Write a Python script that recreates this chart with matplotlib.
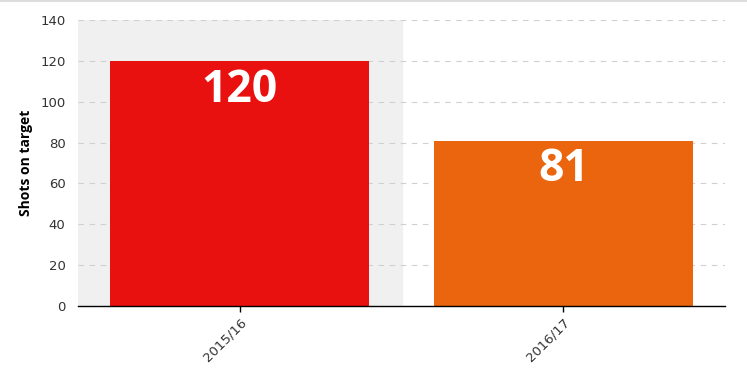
import matplotlib.pyplot as plt
import numpy as np

seasons = ["2015/16", "2016/17"]
shots = [120, 81]
colors = ["#E8110F", "#EA650D"]

plt.rcParams['font.family'] = ['DejaVu Sans']

fig = plt.figure(figsize=(7.47, 3.71), dpi=100)
ax = fig.add_axes([78/747, 65/371, 647/747, 286/371])

x = np.arange(len(seasons))
# shaded background behind the first category
ax.axvspan(-0.5, 0.5, color="#F0F0F0", zorder=0)
bars = ax.bar(x, shots, width=0.8, color=colors, zorder=2)

for xi, v in zip(x, shots):
    ax.annotate(str(v), (xi, v), xytext=(0, -5), textcoords="offset points",
                ha="center", va="top", color="white", fontsize=32,
                fontweight="bold", family=["Open Sans", "DejaVu Sans"], zorder=3)

ax.set_xlim(-0.5, 1.5)
ax.set_ylim(0, 140)
ax.set_yticks(range(0, 141, 20))
ax.yaxis.grid(True, linestyle=(0, (5, 5)), color="#D0D0D0", linewidth=0.8, zorder=1)
ax.set_axisbelow(True)

ax.set_xticks(x)
ax.set_xticklabels(seasons, rotation=45, ha="right", rotation_mode="anchor",
                   fontsize=9.5, color="#333333")
ax.tick_params(axis="y", length=0, labelsize=9.5, labelcolor="#333333", pad=9)
ax.tick_params(axis="x", length=4, width=1, color="black", pad=3)

for s in ["top", "right", "left"]:
    ax.spines[s].set_visible(False)
ax.spines["bottom"].set_color("black")
ax.spines["bottom"].set_linewidth(1)

ax.set_ylabel("Shots on target", fontsize=10, fontweight="bold",
              family=["Open Sans", "DejaVu Sans"], labelpad=5)

# thin border line along the top of the image
fig.add_artist(plt.Line2D([0, 1], [0.998, 0.998], color="#DDDDDD", linewidth=1.5))

fig.savefig("out.png", dpi=100)
